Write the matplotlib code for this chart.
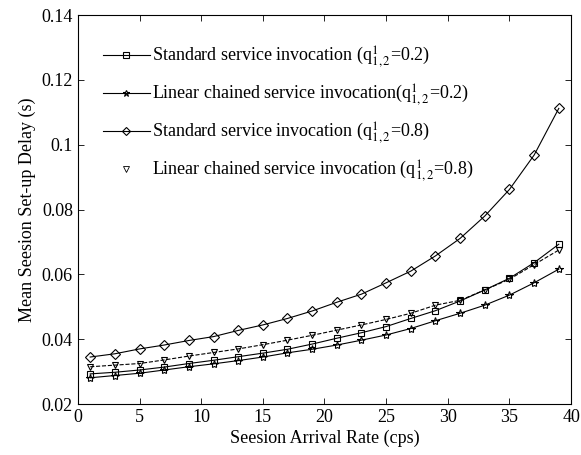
import matplotlib
matplotlib.use("Agg")
import matplotlib.pyplot as plt
from matplotlib.lines import Line2D
from matplotlib.ticker import FuncFormatter

plt.rcParams['font.family'] = ['Liberation Serif', 'DejaVu Serif']
plt.rcParams['mathtext.fontset'] = 'stix'

# Session arrival rate (cps)
rate = [1, 3, 5, 7, 9, 11, 13, 15, 17, 19, 21, 23, 25, 27, 29, 31, 33, 35, 37, 39]

std_02 = [0.0293, 0.0298, 0.0305, 0.0314, 0.0325, 0.0335, 0.0346, 0.0357, 0.0369, 0.0385,
          0.0403, 0.0420, 0.0439, 0.0464, 0.0488, 0.0518, 0.0552, 0.0588, 0.0636, 0.0693]
lin_02 = [0.0281, 0.0288, 0.0295, 0.0305, 0.0315, 0.0324, 0.0334, 0.0345, 0.0358, 0.0369,
          0.0382, 0.0397, 0.0413, 0.0433, 0.0457, 0.0480, 0.0505, 0.0536, 0.0574, 0.0616]
std_08 = [0.0345, 0.0355, 0.0370, 0.0382, 0.0396, 0.0408, 0.0427, 0.0444, 0.0464, 0.0487,
          0.0514, 0.0539, 0.0574, 0.0610, 0.0657, 0.0711, 0.0780, 0.0862, 0.0968, 0.1112]
lin_08 = [0.0315, 0.0320, 0.0325, 0.0336, 0.0348, 0.0359, 0.0370, 0.0383, 0.0397, 0.0412,
          0.0428, 0.0444, 0.0461, 0.0480, 0.0505, 0.0520, 0.0552, 0.0585, 0.0630, 0.0675]

labels = [r'Standard service invocation (q$^{1}_{1,2}$=0.2)',
          r'Linear chained service invocation(q$^{1}_{1,2}$=0.2)',
          r'Standard service invocation (q$^{1}_{1,2}$=0.8)',
          r'Linear chained service invocation (q$^{1}_{1,2}$=0.8)']

xticks = [0, 5, 10, 15, 20, 25, 30, 35, 40]
yticks = [0.02, 0.04, 0.06, 0.08, 0.10, 0.12, 0.14]

fs = 13

fig = plt.figure(figsize=(5.81, 4.55), dpi=100)
ax = fig.add_axes([0.134, 0.112, 0.849, 0.855])

lw = 0.8
ax.plot(rate, std_02, '-', color='black', lw=lw, marker='s', ms=5, mfc='none', mew=0.8)
ax.plot(rate, lin_02, '-', color='black', lw=lw, marker='*', ms=6, mfc='none', mew=0.8)
ax.plot(rate, std_08, '-', color='black', lw=lw, marker='D', ms=5.5, mfc='none', mew=0.8)
ax.plot(rate, lin_08, '--', color='black', lw=lw, marker='v', ms=5, mfc='none', mew=0.8)

handles = [
    Line2D([], [], color='black', lw=lw, marker='s', ms=4, mfc='none', mew=0.8),
    Line2D([], [], color='black', lw=lw, marker='*', ms=5, mfc='none', mew=0.8),
    Line2D([], [], color='black', lw=lw, marker='D', ms=4, mfc='none', mew=0.8),
    Line2D([], [], color='black', lw=0, ls='none', marker='v', ms=4, mfc='none', mew=0.6),
]
ax.legend(handles, labels, loc='upper left', bbox_to_anchor=(0.019, 0.965), frameon=False,
          fontsize=fs, handlelength=2.55, handletextpad=0.15, labelspacing=0.68)

ax.set_xlim(0, 40)
ax.set_ylim(0.02, 0.14)
ax.set_xticks(xticks)
ax.set_yticks(yticks)
ax.yaxis.set_major_formatter(FuncFormatter(lambda v, p: '%g' % round(v, 4)))
ax.tick_params(direction='in', top=True, right=True, labelsize=fs, length=4, width=0.6)
for s in ax.spines.values():
    s.set_linewidth(0.8)

ax.set_xlabel('Seesion Arrival Rate (cps)', fontsize=fs, labelpad=3)
ax.set_ylabel('Mean Seesion Set-up Delay (s)', fontsize=fs, labelpad=4)

fig.savefig('out.png', dpi=100)
